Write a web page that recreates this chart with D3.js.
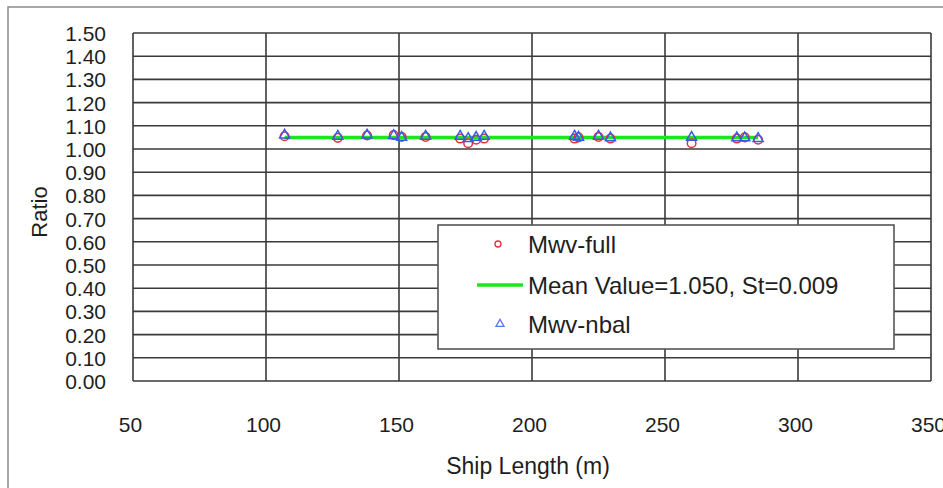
<!DOCTYPE html>
<html>
<head>
<meta charset="utf-8">
<script src="https://cdn.jsdelivr.net/npm/d3@7"></script>
<style>
  body { margin: 0; background: #fff; }
  svg { display: block; font-family: "Liberation Sans", Arial, sans-serif; }
</style>
</head>
<body>
<div id="chart"></div>
<script>
// ship lengths (m) and the two ratio series
const shipLength = [107, 127, 138, 148, 151, 160, 173, 176, 179, 182, 216, 217.5, 225, 229.5, 260, 277, 280, 285];
const mwvFull    = [1.055, 1.048, 1.058, 1.060, 1.052, 1.052, 1.045, 1.025, 1.040, 1.045, 1.045, 1.050, 1.052, 1.045, 1.025, 1.045, 1.050, 1.040];
const mwvNbal    = [1.060, 1.055, 1.060, 1.058, 1.050, 1.055, 1.055, 1.045, 1.050, 1.055, 1.055, 1.050, 1.055, 1.048, 1.050, 1.048, 1.048, 1.045];
const meanValue = 1.050;
const stDev = 0.009;
const xTicks = [50, 100, 150, 200, 250, 300, 350];
const yTicks = [0, 0.1, 0.2, 0.3, 0.4, 0.5, 0.6, 0.7, 0.8, 0.9, 1.0, 1.1, 1.2, 1.3, 1.4, 1.5];
const legendLabels = ["Mwv-full", "Mean Value=" + meanValue.toFixed(3) + ", St=" + stDev.toFixed(3), "Mwv-nbal"];

const width = 943, height = 488;
const plot = {left: 133, right: 931, top: 33, bottom: 381};

const svg = d3.select("#chart").append("svg")
  .attr("width", width)
  .attr("height", height);

// outer chart frame (runs off the right and bottom)
svg.append("rect")
  .attr("x", 8).attr("y", 7)
  .attr("width", 1000).attr("height", 1000)
  .attr("fill", "none")
  .attr("stroke", "#8a8a8a")
  .attr("stroke-width", 1.5);

const x = d3.scaleLinear().domain([50, 350]).range([plot.left, plot.right]);
const y = d3.scaleLinear().domain([0, 1.5]).range([plot.bottom, plot.top]);

const gridColor = "#3a3a3a";

// horizontal grid
svg.append("g")
  .selectAll("line")
  .data(yTicks)
  .enter()
  .append("line")
  .attr("x1", plot.left).attr("x2", plot.right)
  .attr("y1", d => y(d)).attr("y2", d => y(d))
  .attr("stroke", gridColor)
  .attr("stroke-width", 1.6);

// vertical grid
svg.append("g")
  .selectAll("line")
  .data(xTicks)
  .enter()
  .append("line")
  .attr("x1", d => x(d)).attr("x2", d => x(d))
  .attr("y1", plot.top).attr("y2", plot.bottom)
  .attr("stroke", gridColor)
  .attr("stroke-width", 1.6);

// y tick labels
const yAxis = svg.append("g")
  .attr("transform", `translate(${plot.left - 27},0)`)
  .call(d3.axisLeft(y).tickValues(yTicks).tickFormat(d3.format(".2f")).tickSize(0).tickPadding(0));
yAxis.select(".domain").remove();
yAxis.selectAll("text")
  .attr("font-size", 21)
  .attr("fill", "#1e1e1e")
  .attr("dy", "0.36em");

// x tick labels
const xAxis = svg.append("g")
  .attr("transform", `translate(-3,${plot.bottom + 36})`)
  .call(d3.axisBottom(x).tickValues(xTicks).tickSize(0).tickPadding(0));
xAxis.select(".domain").remove();
xAxis.selectAll("text")
  .attr("font-size", 21)
  .attr("fill", "#1e1e1e");

// axis titles
svg.append("text")
  .attr("x", 528).attr("y", 474)
  .attr("text-anchor", "middle")
  .attr("font-size", 23)
  .attr("fill", "#1e1e1e")
  .text("Ship Length (m)");

svg.append("text")
  .attr("transform", "translate(47,212) rotate(-90)")
  .attr("text-anchor", "middle")
  .attr("font-size", 22)
  .attr("fill", "#1e1e1e")
  .text("Ratio");

// mean line across the ship length range
svg.append("line")
  .attr("x1", x(d3.min(shipLength))).attr("x2", x(d3.max(shipLength)))
  .attr("y1", y(meanValue)).attr("y2", y(meanValue))
  .attr("stroke", "#1ee61e")
  .attr("stroke-width", 3.5);

const full = shipLength.map((L, i) => ({L, v: mwvFull[i]}));
const nbal = shipLength.map((L, i) => ({L, v: mwvNbal[i]}));

const tri = d3.symbol().type(d3.symbolTriangle).size(44);

svg.append("g")
  .selectAll("circle")
  .data(full)
  .enter()
  .append("circle")
  .attr("cx", d => x(d.L))
  .attr("cy", d => y(d.v))
  .attr("r", 4.3)
  .attr("fill", "none")
  .attr("stroke", "#e0303a")
  .attr("stroke-width", 1.5);

svg.append("g")
  .selectAll("path")
  .data(nbal)
  .enter()
  .append("path")
  .attr("d", tri)
  .attr("transform", d => `translate(${x(d.L)},${y(d.v)})`)
  .attr("fill", "none")
  .attr("stroke", "#3a5ae8")
  .attr("stroke-width", 1.5);

// legend
const legend = svg.append("g").attr("transform", "translate(438,225)");
legend.append("rect")
  .attr("width", 456).attr("height", 124)
  .attr("fill", "#fff")
  .attr("stroke", "#555")
  .attr("stroke-width", 1.6);

const rowY = [19, 60, 99];
legend.append("circle")
  .attr("cx", 60).attr("cy", rowY[0])
  .attr("r", 3)
  .attr("fill", "none")
  .attr("stroke", "#e0303a")
  .attr("stroke-width", 1.3);
legend.append("line")
  .attr("x1", 39).attr("x2", 85)
  .attr("y1", rowY[1]).attr("y2", rowY[1])
  .attr("stroke", "#1ee61e")
  .attr("stroke-width", 3.5);
legend.append("path")
  .attr("d", d3.symbol().type(d3.symbolTriangle).size(28))
  .attr("transform", `translate(62,${rowY[2]})`)
  .attr("fill", "none")
  .attr("stroke", "#5a78ee")
  .attr("stroke-width", 1.3);

legend.selectAll("text")
  .data(legendLabels)
  .enter()
  .append("text")
  .attr("x", 90)
  .attr("y", (d, i) => rowY[i])
  .attr("dy", "0.36em")
  .attr("font-size", 24)
  .attr("fill", "#1e1e1e")
  .text(d => d);
</script>
</body>
</html>
